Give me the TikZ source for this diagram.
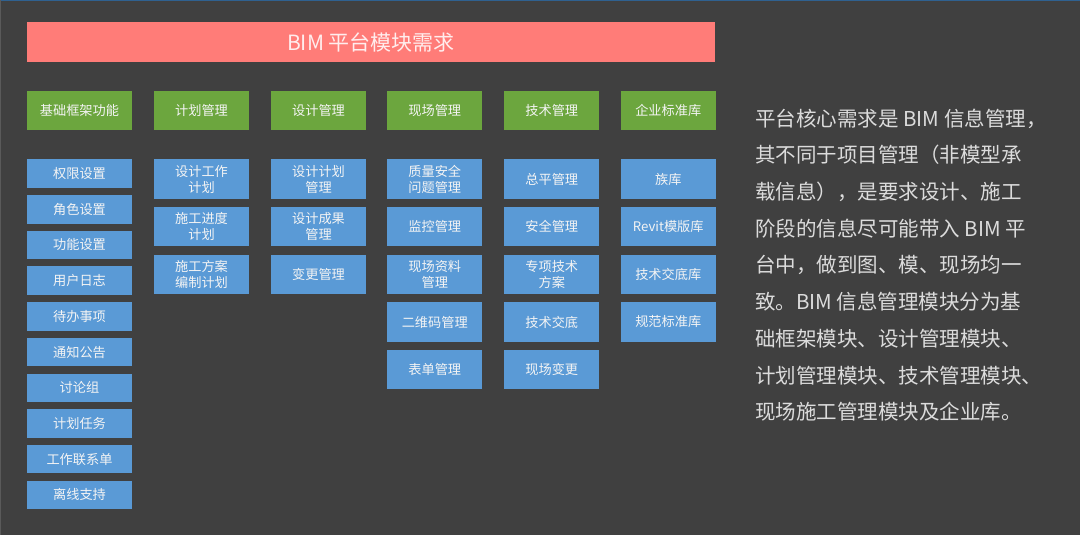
\documentclass[tikz,border=0pt]{standalone}
\usepackage{fontspec}
\setmainfont{Noto Sans CJK SC}
\definecolor{bgc}{HTML}{404040}
\definecolor{topline}{HTML}{2F6190}
\definecolor{leftline}{HTML}{5A5A5A}
\definecolor{titlered}{HTML}{FF7C78}
\definecolor{hdrgreen}{HTML}{6CA63E}
\definecolor{itmblue}{HTML}{5A9AD6}
\definecolor{boxtxt}{HTML}{F4F4F4}
\definecolor{titletxt}{HTML}{FFEDED}
\definecolor{desctxt}{HTML}{DCDCDC}
\begin{document}
\begin{tikzpicture}[x=1pt,y=-1pt,
  box/.style={inner sep=0pt, text=boxtxt, align=center, font=\fontsize{13.2}{16}\selectfont},
  titlebox/.style={box, fill=titlered, text=titletxt, minimum width=688pt, minimum height=40pt, font=\fontsize{21}{24}\selectfont},
  hdr/.style={box, fill=hdrgreen, minimum height=39pt},
  itm/.style={box, fill=itmblue, minimum height=39.5pt, minimum width=95pt},
  itms/.style={box, fill=itmblue, minimum height=28.5pt, minimum width=105pt},
  desc/.style={inner sep=0pt, anchor=base west, text=desctxt, font=\fontsize{20.5}{24}\selectfont}]
\useasboundingbox (0,0) rectangle (1080,535);
\fill[bgc] (0,0) rectangle (1080,535);
\draw[topline, line width=1.2pt] (0,0.6) -- (1080,0.6);
\draw[leftline, line width=1pt] (0.5,0) -- (0.5,535);

\node[titlebox] (title) at (371,42) {BIM 平台模块需求};

% headers
\node[hdr, minimum width=105pt] (h1) at (79.5,110.5) {基础框架功能};
\node[hdr, minimum width=95pt] (h2) at (201.5,110.5) {计划管理};
\node[hdr, minimum width=95pt] (h3) at (318.5,110.5) {设计管理};
\node[hdr, minimum width=95pt] (h4) at (434.75,110.5) {现场管理};
\node[hdr, minimum width=95pt] (h5) at (551.75,110.5) {技术管理};
\node[hdr, minimum width=95pt] (h6) at (668.25,110.5) {企业标准库};

% column 1
\foreach \t [count=\i from 0] in {权限设置,角色设置,功能设置,用户日志,待办事项,通知公告,讨论组,计划任务,工作联系单,离线支持}
  \node[itms] (a\i) at (79.5,{173.55+35.7*\i}) {\t};

% column 2
\foreach \t [count=\i from 0] in {{设计工作\\计划},{施工进度\\计划},{施工方案\\编制计划}}
  \node[itm] (b\i) at (201.5,{179.05+47.65*\i}) {\t};

% column 3
\foreach \t [count=\i from 0] in {{设计计划\\管理},{设计成果\\管理},{变更管理}}
  \node[itm] (c\i) at (318.5,{179.05+47.65*\i}) {\t};

% column 4
\foreach \t [count=\i from 0] in {{质量安全\\问题管理},{监控管理},{现场资料\\管理},{二维码管理},{表单管理}}
  \node[itm] (d\i) at (434.75,{179.05+47.65*\i}) {\t};

% column 5
\foreach \t [count=\i from 0] in {{总平管理},{安全管理},{专项技术\\方案},{技术交底},{现场变更}}
  \node[itm] (e\i) at (551.75,{179.05+47.65*\i}) {\t};

% column 6
\foreach \t [count=\i from 0] in {{族库},{Revit模版库},{技术交底库},{规范标准库}}
  \node[itm] (f\i) at (668.25,{179.05+47.65*\i}) {\t};

% description
\foreach \t [count=\i from 0] in {{平台核心需求是 BIM 信息管理，},{其不同于项目管理（非模型承},{载信息），是要求设计、施工},{阶段的信息尽可能带入 BIM 平},{台中，做到图、模、现场均一},{致。BIM 信息管理模块分为基},{础框架模块、设计管理模块、},{计划管理模块、技术管理模块、},{现场施工管理模块及企业库。}}
  \node[desc] (r\i) at (755,{126.1+36.7*\i}) {\t};
\end{tikzpicture}
\end{document}
